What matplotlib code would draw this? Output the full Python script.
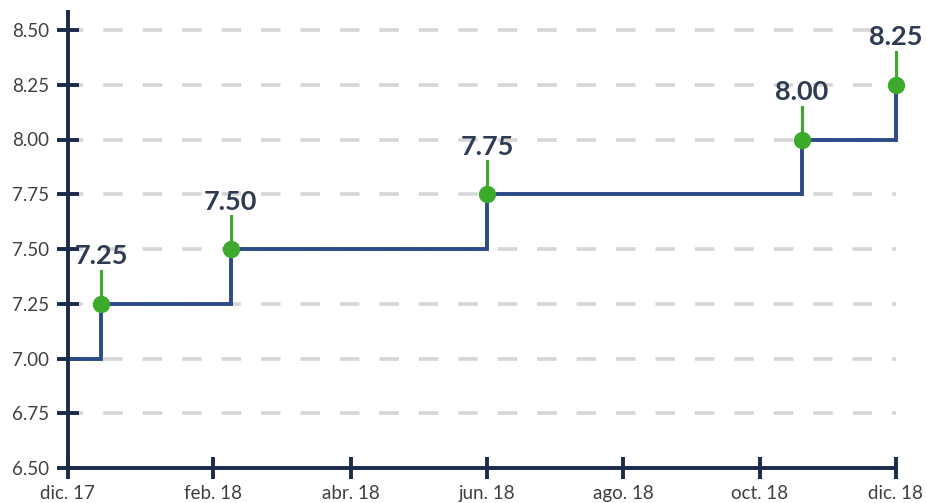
import matplotlib
matplotlib.use("Agg")
import matplotlib.pyplot as plt
import pandas as pd

# ---- data ----
dates = ['2017-12-14', '2017-12-29', '2018-02-25', '2018-06-20', '2018-11-08', '2018-12-20']
rates = [7.00, 7.25, 7.50, 7.75, 8.00, 8.25]
tick_dates = ['2017-12-14', '2018-02-17', '2018-04-20', '2018-06-20', '2018-08-20', '2018-10-20', '2018-12-20']
tick_labels = ['dic. 17', 'feb. 18', 'abr. 18', 'jun. 18', 'ago. 18', 'oct. 18', 'dic. 18']
y_ticks = [6.50, 6.75, 7.00, 7.25, 7.50, 7.75, 8.00, 8.25, 8.50]

plt.rcParams['font.family'] = ['Lato', 'DejaVu Sans']
plt.rcParams['lines.scale_dashes'] = False

x = pd.to_datetime(dates)
xt = pd.to_datetime(tick_dates)

W, H = 927, 503
fig = plt.figure(figsize=(W / 100, H / 100), dpi=100)
left, right, bottom, top = 67.7, 895.7, 468, 12
ax = fig.add_axes([left / W, 1 - bottom / H, (right - left) / W, (bottom - top) / H])

navy = '#1b2a4b'
line_c = '#2b4a87'
green = '#3cab2c'
label_c = '#2f3b52'

ax.set_xlim(xt[0], xt[-1])
ax.set_ylim(6.5, 8.5 + (30 - 12) / 219.0)

# grid
for yv in y_ticks[1:]:
    ax.axhline(yv, color='#d6d6d6', lw=2.6, linestyle=(3.0, (14.0, 14.4)), zorder=1)

# step line
ax.plot(x, rates, drawstyle='steps-post', color=line_c, lw=2.8, zorder=3,
        solid_joinstyle='miter', clip_on=False)

# stems, markers, labels
for xi, r in zip(x[1:], rates[1:]):
    ax.plot([xi, xi], [r, r + 0.15], color=green, lw=2.2, zorder=4, clip_on=False)
    ax.text(xi, r + 0.18, f'{r:.2f}', ha='center', va='baseline', fontsize=19.5,
            fontweight='bold', color=label_c, zorder=6, clip_on=False)
ax.plot(x[1:], rates[1:], 'o', color=green, ms=11.5, zorder=5, clip_on=False)

# axes styling
for s in ['top', 'right']:
    ax.spines[s].set_visible(False)
for s in ['left', 'bottom']:
    ax.spines[s].set_color(navy)
    ax.spines[s].set_linewidth(2.8)
    ax.spines[s].set_zorder(7)

ax.set_yticks(y_ticks)
ax.set_yticklabels([f'{v:.2f}' for v in y_ticks])
ax.set_xticks(xt)
ax.set_xticklabels(tick_labels)
ax.tick_params(axis='both', direction='inout', length=16.5, width=2.8, color=navy,
               labelcolor='#404040', labelsize=13.5)
ax.tick_params(axis='y', pad=5)
ax.tick_params(axis='x', pad=4)

fig.savefig('out.png', dpi=100)
